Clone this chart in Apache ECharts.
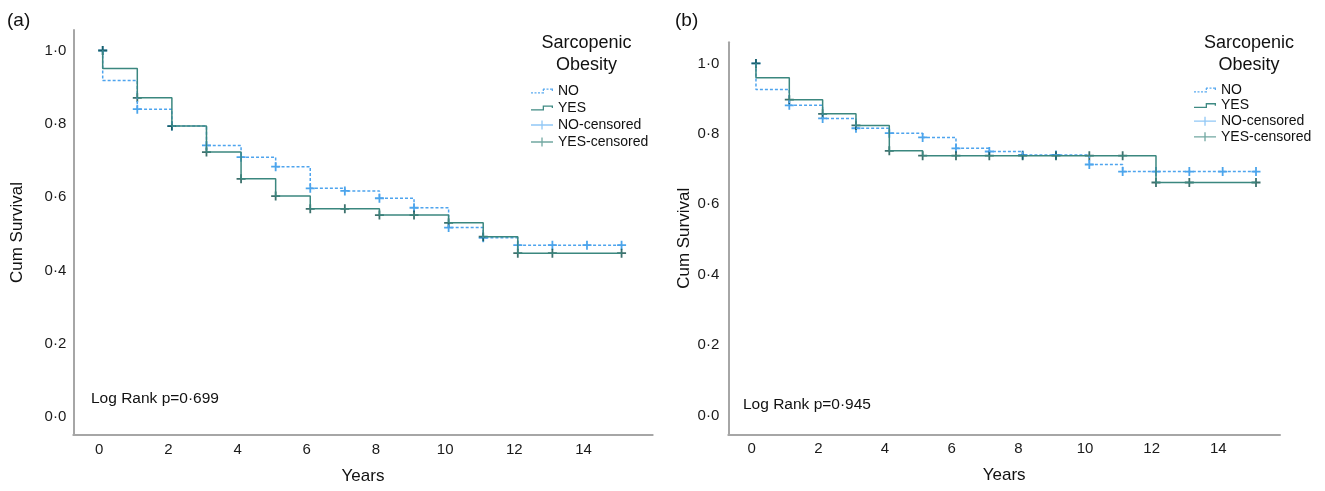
<!DOCTYPE html>
<html>
<head>
<meta charset="utf-8">
<title>Sarcopenic obesity - Kaplan-Meier</title>
<script src="https://cdn.jsdelivr.net/npm/echarts@6/dist/echarts.min.js"></script>
<style>
  html, body { margin: 0; padding: 0; background: #fff; }
  #km-chart { width: 1325px; height: 491px; }
</style>
</head>
<body>
<div id="km-chart"></div>
<script>
// ---- DATA ----
// panel (a): time (years) where each level starts, and the survival level from there on
var yearsA = [0.1, 1.1, 2.1, 3.1, 4.1, 5.1, 6.1, 7.1, 8.1, 9.1, 10.1, 11.1, 12.1, 13.1, 14.1, 15.1];
var noA = [0.918, 0.840, 0.794, 0.741, 0.709, 0.683, 0.624, 0.617, 0.597, 0.571, 0.517, 0.489, 0.469, 0.469, 0.469, 0.469];
var yesA = [0.951, 0.871, 0.794, 0.723, 0.650, 0.603, 0.568, 0.568, 0.551, 0.551, 0.530, 0.492, 0.447, 0.447, 0.447, 0.447];
// which of the time points carry a censored mark
var noCensorA = [0, 1, 2, 3, 4, 5, 6, 7, 8, 9, 10, 11, 12, 13, 14, 15];
var yesCensorA = [0, 1, 2, 3, 4, 5, 6, 7, 8, 9, 10, 11, 12, 13, 15];

// panel (b)
var yearsB = [0.13, 1.13, 2.13, 3.13, 4.13, 5.13, 6.13, 7.13, 8.13, 9.13, 10.13, 11.13, 12.13, 13.13, 14.13, 15.13];
var noB = [0.926, 0.881, 0.844, 0.816, 0.802, 0.790, 0.759, 0.750, 0.740, 0.740, 0.713, 0.693, 0.693, 0.693, 0.693, 0.693];
var yesB = [0.959, 0.897, 0.857, 0.824, 0.752, 0.738, 0.738, 0.738, 0.738, 0.738, 0.738, 0.738, 0.662, 0.662, 0.662, 0.662];
var noCensorB = [0, 1, 2, 3, 4, 5, 6, 7, 8, 9, 10, 11, 12, 13, 14, 15];
var yesCensorB = [0, 1, 2, 3, 4, 5, 6, 7, 8, 9, 10, 11, 12, 13, 15];

var startLevel = 1.0;
var xTicks = [0, 2, 4, 6, 8, 10, 12, 14];
var yTicks = [0, 0.2, 0.4, 0.6, 0.8, 1.0];
var pValues = ["0·699", "0·945"];

// ---- STYLE ----
var FONT = "Liberation Sans, Arial, sans-serif";
var NO_LINE = "#4ea4ee";
var YES_LINE = "#3b877f";
var NO_MARK = "#1f8fe6";
var YES_MARK = "#0d4d48";
var AXIS = "#a6a6a6";

var PLUS = "path://M4,0h2v4h4v2h-4v4h-2v-4h-4v-2h4z";
// legend icons (filled shapes, 22 wide)
var ICON_YES = "path://M0,3.7h13v1.3h-13z M11.7,0h1.3v5h-1.3z M11.7,0h10.3v1.3h-10.3z M20.7,0h1.3v2.6h-1.3z";
var ICON_NO = "path://M0,3.7h2v1.3h-2z M3.5,3.7h2v1.3h-2z M7,3.7h2v1.3h-2z M10.5,3.7h2.5v1.3h-2.5z " +
  "M11.7,0.4h1.3v2h-1.3z M12,0h2v1.3h-2z M15.5,0h2v1.3h-2z M19,0h3v1.3h-3z M20.7,0h1.3v2.6h-1.3z";
var ICON_CENS = "path://M0,3.85h22v1.3h-22z M10.35,0h1.3v9h-1.3z";

// step curve: starts at 1.0 and drops at the first time point
function kmData(years, levels) {
  var out = [[years[0], startLevel]];
  for (var i = 0; i < years.length; i++) {
    out.push([years[i], levels[i]]);
  }
  return out;
}

function censorData(years, levels, idx) {
  return idx.map(function (k) {
    return [years[k], k === 0 ? startLevel : levels[k]];
  });
}

function lineSeries(name, gi, data, color, dashed) {
  return {
    name: name,
    type: "line",
    xAxisIndex: gi,
    yAxisIndex: gi,
    step: "end",
    showSymbol: false,
    color: color,
    lineStyle: { color: color, width: 1.5, type: dashed ? [3, 2] : "solid" },
    data: data,
  };
}

function markSeries(name, gi, data, color) {
  return {
    name: name,
    type: "scatter",
    xAxisIndex: gi,
    yAxisIndex: gi,
    symbol: PLUS,
    symbolSize: 9,
    itemStyle: { color: color },
    data: data,
  };
}

function xAxisFor(gi, min, max) {
  return {
    type: "value",
    gridIndex: gi,
    min: min,
    max: max,
    name: "Years",
    nameLocation: "middle",
    nameGap: 33,
    nameTextStyle: { fontFamily: FONT, fontSize: 17, color: "#111" },
    axisLine: { onZero: false, lineStyle: { color: AXIS, width: 2 } },
    axisTick: { show: false },
    splitLine: { show: false },
    axisLabel: {
      customValues: xTicks,
      margin: 7,
      fontFamily: FONT,
      fontSize: 15,
      color: "#1a1a1a",
    },
  };
}

function yAxisFor(gi, min, max, gap, margin) {
  return {
    type: "value",
    gridIndex: gi,
    min: min,
    max: max,
    name: "Cum Survival",
    nameLocation: "middle",
    nameGap: gap,
    nameTextStyle: { fontFamily: FONT, fontSize: 17, color: "#111" },
    axisLine: { onZero: false, lineStyle: { color: AXIS, width: 2 } },
    axisTick: { show: false },
    splitLine: { show: false },
    axisLabel: {
      customValues: yTicks,
      margin: margin,
      fontFamily: FONT,
      fontSize: 15,
      color: "#1a1a1a",
      formatter: function (v) {
        return v.toFixed(1).replace(".", "·");
      },
    },
  };
}

function legendFor(left, top, gap) {
  return {
    orient: "vertical",
    left: left,
    top: top,
    padding: 0,
    itemGap: gap,
    itemWidth: 22,
    itemHeight: 10,
    selectedMode: false,
    itemStyle: { borderWidth: 0 },
    textStyle: { fontFamily: FONT, fontSize: 14, color: "#111" },
    data: [
      { name: "NO", icon: ICON_NO, itemStyle: { color: "#5aaaf0", borderWidth: 0 } },
      { name: "YES", icon: ICON_YES, itemStyle: { color: "#3f8a83", borderWidth: 0 } },
      { name: "NO-censored", icon: ICON_CENS, itemStyle: { color: "#74b9f2", borderWidth: 0 } },
      { name: "YES-censored", icon: ICON_CENS, itemStyle: { color: "#4d918a", borderWidth: 0 } },
    ],
  };
}

function textTitle(text, left, top, size, align) {
  return {
    text: text,
    left: left,
    top: top,
    padding: 0,
    textAlign: align || "left",
    textStyle: { fontFamily: FONT, fontSize: size, fontWeight: "normal", color: "#111", lineHeight: size === 18 ? 22 : size + 2 },
  };
}

var myChart = echarts.init(document.getElementById("km-chart"));

var option = {
  animation: false,
  backgroundColor: "#fff",
  title: [
    textTitle("(a)", 7, 10, 19),
    textTitle("(b)", 675, 10, 19),
    textTitle("Sarcopenic\nObesity", 586.5, 32, 18, "center"),
    textTitle("Sarcopenic\nObesity", 1249, 32, 18, "center"),
    textTitle("Log Rank p=" + pValues[0], 91, 390, 15.5),
    textTitle("Log Rank p=" + pValues[1], 743, 396, 15.5),
  ],
  legend: [legendFor(531, 84, 3), legendFor(1194, 83, 1.6)],
  grid: [
    { left: 73.3, right: 672.3, top: 30, bottom: 56 },
    { left: 728.3, right: 45, top: 42.3, bottom: 56.7 },
  ],
  xAxis: [xAxisFor(0, -0.75, 16.0), xAxisFor(1, -0.7, 15.85)],
  yAxis: [yAxisFor(0, -0.049, 1.056, 47, 7), yAxisFor(1, -0.053, 1.06, 35, 9)],
  series: [
    lineSeries("NO", 0, kmData(yearsA, noA), NO_LINE, true),
    lineSeries("YES", 0, kmData(yearsA, yesA), YES_LINE, false),
    markSeries("NO-censored", 0, censorData(yearsA, noA, noCensorA), NO_MARK),
    markSeries("YES-censored", 0, censorData(yearsA, yesA, yesCensorA), YES_MARK),
    lineSeries("NO", 1, kmData(yearsB, noB), NO_LINE, true),
    lineSeries("YES", 1, kmData(yearsB, yesB), YES_LINE, false),
    markSeries("NO-censored", 1, censorData(yearsB, noB, noCensorB), NO_MARK),
    markSeries("YES-censored", 1, censorData(yearsB, yesB, yesCensorB), YES_MARK),
  ],
};

myChart.setOption(option);

window.addEventListener("resize", function () {
  myChart.resize();
});
</script>
</body>
</html>
